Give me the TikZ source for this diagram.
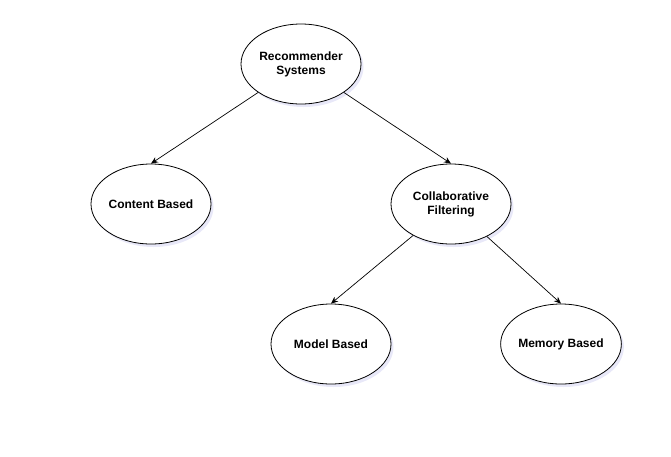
\documentclass[tikz,border=0pt]{standalone}
\usepackage{fontspec}
\setmainfont{Liberation Sans}
\usetikzlibrary{shapes.geometric,shadows,arrows.meta}
\begin{document}
\begin{tikzpicture}[x=1pt,y=-1pt,
  ell/.style={ellipse,draw=black,fill=white,line width=0.8pt,minimum width=120pt,minimum height=80pt,inner sep=0pt,align=center,font=\fontsize{12}{14}\selectfont\bfseries,
    drop shadow={shadow xshift=2.5pt,shadow yshift=-3pt,fill=black!30!blue!20,opacity=0.45}},
  conn/.style={draw=black,line width=0.7pt,-{Stealth[length=7pt,width=6pt]}}]
\useasboundingbox (0,0) rectangle (671,456);
\node[ell] (rs) at (301,64) {Recommender\\Systems};
\node[ell] (cb) at (151,204) {Content Based};
\node[ell] (cf) at (451,204) {Collaborative\\Filtering};
\node[ell] (mb) at (331,344) {Model Based};
\node[ell] (meb) at (561,344) {Memory Based};
\draw[conn] (rs) -- (cb.north);
\draw[conn] (rs) -- (cf.north);
\draw[conn] (cf) -- (mb.north);
\draw[conn] (cf) -- (meb.north);
\end{tikzpicture}
\end{document}
